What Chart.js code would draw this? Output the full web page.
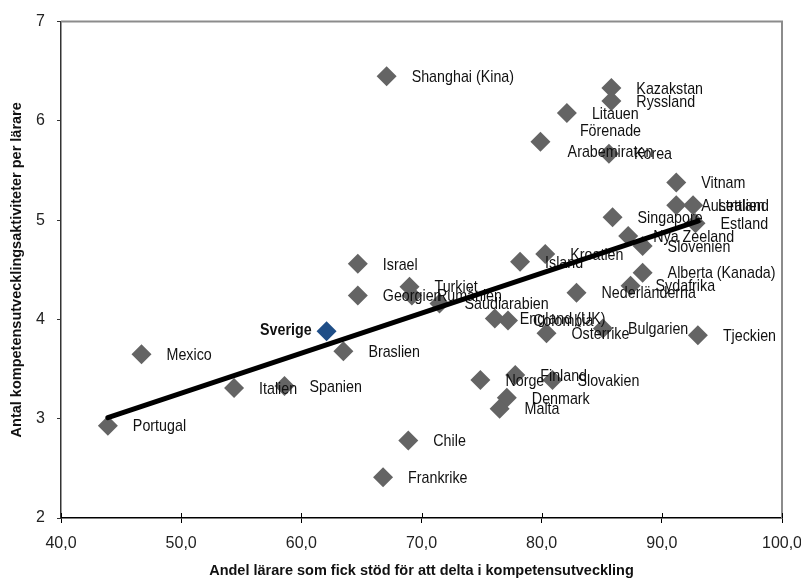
<!DOCTYPE html>
<html>
<head>
<meta charset="utf-8">
<script src="https://cdn.jsdelivr.net/npm/chart.js@4.4.1/dist/chart.umd.min.js"></script>
<style>
  html, body { margin: 0; padding: 0; background: #fff; }
  #wrap { width: 801px; height: 581px; }
</style>
</head>
<body>
<div id="wrap"><canvas id="myChart" width="801" height="581"></canvas></div>
<script>
// data
const lander = [
    "Shanghai (Kina)", "Kazakstan", "Ryssland", "Litauen", "Förenade Arabemiraten",
    "Korea", "Vitnam", "Australien", "Lettland", "Singapore",
    "Estland", "Nya Zeeland", "Slovenien", "Kroatien", "Island",
    "Israel", "Alberta (Kanada)", "Sydafrika", "Nederländerna", "Turkiet",
    "Rumänien", "Georgien", "Saudiarabien", "England (UK)", "Colombia",
    "Österrike", "Bulgarien", "Tjeckien", "Sverige", "Braslien",
    "Mexico", "Italien", "Spanien", "Portugal", "Norge",
    "Finland", "Slovakien", "Denmark", "Malta", "Chile",
    "Frankrike"
];
const andelStod = [
    67.1, 85.8, 85.8, 82.1, 79.9,
    85.6, 91.2, 91.2, 92.6, 85.9,
    92.8, 87.2, 88.4, 80.3, 78.2,
    64.7, 88.4, 87.4, 82.9, 69.0,
    69.2, 64.7, 71.5, 76.1, 77.2,
    80.4, 85.1, 93.0, 62.1, 63.5,
    46.7, 54.4, 58.6, 43.9, 74.9,
    77.8, 80.9, 77.1, 76.5, 68.9,
    66.8
];
const antalAktiviteter = [
    6.45, 6.33, 6.20, 6.08, 5.79,
    5.67, 5.38, 5.15, 5.15, 5.03,
    4.97, 4.84, 4.74, 4.66, 4.58,
    4.56, 4.47, 4.34, 4.27, 4.33,
    4.24, 4.24, 4.16, 4.01, 3.99,
    3.86, 3.91, 3.84, 3.88, 3.68,
    3.65, 3.31, 3.33, 2.93, 3.39,
    3.44, 3.39, 3.21, 3.10, 2.78,
    2.41
];
const trendX = [43.9, 93.0];
const trendY = [3.01, 4.99];

const FONT = "'Liberation Sans', Arial, sans-serif";
const SMAL = 0.84; // squeeze text horizontally, the original font is condensed

const punkter = andelStod.map((v, i) => ({ x: v, y: antalAktiviteter[i] }));
const trend = trendX.map((v, i) => ({ x: v, y: trendY[i] }));

function smalText(ctx, txt, x, y) {
    ctx.save();
    ctx.translate(x, y);
    ctx.scale(SMAL, 1);
    ctx.fillText(txt, 0, 0);
    ctx.restore();
}

const etiketter = {
    id: 'etiketter',
    afterDatasetDraw(chart, args) {
        if (args.index !== 1) return;
        const ctx = chart.ctx;
        ctx.save();
        ctx.fillStyle = '#111';
        ctx.textBaseline = 'middle';
        args.meta.data.forEach((p, i) => {
            const namn = lander[i];
            if (namn === "Sverige") {
                ctx.font = "bold 17px " + FONT;
                ctx.textAlign = 'right';
                smalText(ctx, namn, p.x - 15, p.y - 1);
            } else if (namn === "Förenade Arabemiraten") {
                ctx.font = "17px " + FONT;
                ctx.textAlign = 'center';
                smalText(ctx, "Förenade", p.x + 70, p.y - 10);
                smalText(ctx, "Arabemiraten", p.x + 70, p.y + 11);
            } else {
                ctx.font = "17px " + FONT;
                ctx.textAlign = 'left';
                smalText(ctx, namn, p.x + 25, p.y + 1);
            }
        });
        ctx.restore();
    }
};

const ram = {
    id: 'ram',
    beforeDatasetsDraw(chart) {
        const {ctx, chartArea: a, scales} = chart;
        ctx.save();
        ctx.strokeStyle = '#8c8c8c';
        ctx.lineWidth = 2;
        ctx.beginPath();
        ctx.moveTo(a.left, a.top);
        ctx.lineTo(a.right, a.top);
        ctx.lineTo(a.right, a.bottom);
        ctx.stroke();
        // inner half of the x ticks
        ctx.strokeStyle = '#000';
        ctx.lineWidth = 1;
        scales.x.ticks.forEach(t => {
            const px = Math.round(scales.x.getPixelForValue(t.value)) + 0.5;
            ctx.beginPath();
            ctx.moveTo(px, a.bottom);
            ctx.lineTo(px, a.bottom - 5);
            ctx.stroke();
        });
        ctx.restore();
    }
};

const ctx = document.getElementById('myChart');
const myChart = new Chart(ctx, {
    data: {
        datasets: [{
            type: 'line',
            data: trend,
            borderColor: '#000',
            borderWidth: 5,
            borderCapStyle: 'round',
            pointRadius: 0,
            order: 0
        }, {
            type: 'scatter',
            data: punkter,
            pointStyle: 'rectRot',
            pointRadius: 10,
            pointHoverRadius: 10,
            borderWidth: 0,
            backgroundColor: lander.map(n => n === "Sverige" ? '#1f4e87' : '#646464'),
            order: 1
        }]
    },
    options: {
        responsive: false,
        animation: false,
        events: [],
        layout: { padding: { top: 20, right: 0, left: 0, bottom: 0 } },
        plugins: { legend: { display: false }, tooltip: { enabled: false } },
        scales: {
            x: {
                type: 'linear',
                min: 40,
                max: 100,
                afterFit: (s) => { s.height = 63; s.paddingRight = 19; s.paddingLeft = 0; },
                ticks: {
                    stepSize: 10,
                    padding: 11,
                    color: '#222',
                    font: { family: FONT, size: 16 },
                    callback: (v) => v.toFixed(1).replace('.', ',')
                },
                grid: { drawOnChartArea: false, tickLength: 5, color: '#000' },
                border: { color: '#000', width: 1.5 },
                title: {
                    display: true,
                    text: 'Andel lärare som fick stöd för att delta i kompetensutveckling',
                    color: '#111',
                    font: { family: FONT, size: 14.5, weight: 'bold' },
                    padding: { top: 0, bottom: 1 }
                }
            },
            y: {
                type: 'linear',
                min: 2,
                max: 7,
                afterFit: (s) => { s.width = 61; },
                ticks: {
                    stepSize: 1,
                    padding: 12,
                    color: '#222',
                    font: { family: FONT, size: 16 }
                },
                grid: { drawOnChartArea: false, tickLength: 4, color: '#333' },
                border: { color: '#333', width: 1.5 },
                title: {
                    display: true,
                    text: 'Antal kompetensutvecklingsaktiviteter per lärare',
                    color: '#111',
                    font: { family: FONT, size: 14.5, weight: 'bold' },
                    padding: { top: 8, bottom: 0 }
                }
            }
        }
    },
    plugins: [etiketter, ram]
});
</script>
</body>
</html>
